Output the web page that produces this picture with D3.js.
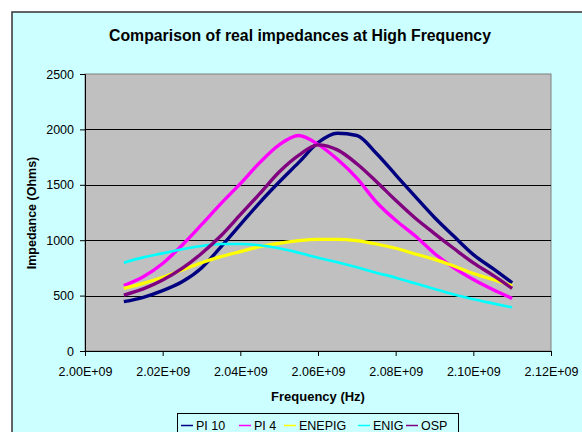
<!DOCTYPE html>
<html>
<head>
<meta charset="utf-8">
<script src="https://cdn.jsdelivr.net/npm/d3@7"></script>
<style>
  html, body { margin: 0; padding: 0; background: #ffffff; }
  svg { display: block; font-family: "Liberation Sans", Arial, sans-serif; }
</style>
</head>
<body>
<svg id="chart" width="582" height="432"></svg>
<script>
// ---- Data ----
const frequencies = [2.010e9, 2.015e9, 2.020e9, 2.025e9, 2.030e9, 2.035e9, 2.040e9,
  2.045e9, 2.050e9, 2.055e9, 2.060e9, 2.065e9, 2.070e9, 2.075e9, 2.080e9, 2.085e9,
  2.090e9, 2.095e9, 2.100e9, 2.105e9, 2.110e9];
const seriesNames = ["PI 10", "PI 4", "ENEPIG", "ENIG", "OSP"];
const pi10 =   [445, 485, 545, 625, 750, 940, 1140, 1340, 1525, 1700, 1880, 1965, 1945, 1785, 1590, 1395, 1205, 1035, 870, 745, 615];
const pi4 =    [590, 670, 790, 955, 1140, 1330, 1510, 1700, 1860, 1945, 1865, 1730, 1560, 1345, 1180, 1040, 880, 750, 645, 555, 475];
const enepig = [565, 610, 665, 731, 797, 852, 897, 942, 972, 996, 1008, 1008, 996, 966, 927, 876, 827, 767, 700, 645, 590];
const enig =   [797, 845, 881, 918, 948, 966, 966, 954, 927, 887, 842, 800, 755, 707, 662, 611, 560, 509, 467, 430, 394];
const osp =    [505, 560, 640, 745, 880, 1040, 1230, 1420, 1615, 1765, 1860, 1815, 1690, 1530, 1360, 1200, 1060, 925, 795, 685, 565];
const xTicks = [2.00e9, 2.02e9, 2.04e9, 2.06e9, 2.08e9, 2.10e9, 2.12e9];
const yTicks = [0, 500, 1000, 1500, 2000, 2500];
const gridValues = [500, 1000, 1500, 2000];
const titleText = "Comparison of real impedances at High Frequency";
const xTitle = "Frequency (Hz)";
const yTitle = "Impedance (Ohms)";

// ---- Styling ----
const colors = ["#000080", "#FF00FF", "#FFFF00", "#00FFFF", "#800080"];
const widths = [3.4, 3.4, 3.2, 2.6, 3.4];
const seriesValues = [pi10, pi4, enepig, enig, osp];

const svg = d3.select("#chart");

// chart area background + border
svg.append("rect").attr("x", 12).attr("y", 12).attr("width", 600).attr("height", 440)
  .attr("fill", "#CCFFFF").attr("stroke", "#333333").attr("stroke-width", 1.5);

const plot = { left: 85, right: 551, top: 74, bottom: 351 };
const x = d3.scaleLinear().domain([2.00e9, 2.12e9]).range([plot.left, plot.right]);
const y = d3.scaleLinear().domain([0, 2500]).range([plot.bottom, plot.top]);

// plot area
svg.append("rect").attr("x", plot.left).attr("y", plot.top)
  .attr("width", plot.right - plot.left).attr("height", plot.bottom - plot.top)
  .attr("fill", "#C0C0C0").attr("stroke", "#808080").attr("stroke-width", 1);

// gridlines
svg.append("g").selectAll("line").data(gridValues).join("line")
  .attr("x1", plot.left).attr("x2", plot.right)
  .attr("y1", d => Math.round(y(d)) + 0.5).attr("y2", d => Math.round(y(d)) + 0.5)
  .attr("stroke", "#000000").attr("stroke-width", 1);

// series lines
const line = d3.line().curve(d3.curveMonotoneX);
seriesValues.forEach((vals, i) => {
  const pts = vals.map((v, j) => [x(frequencies[j]), y(v)]);
  svg.append("path").attr("d", line(pts)).attr("fill", "none")
    .attr("stroke", colors[i]).attr("stroke-width", widths[i])
    .attr("stroke-linejoin", "round");
});

// axes
const fmtX = v => (v / 1e9).toFixed(2) + "E+09";
const xAxis = d3.axisBottom(x).tickValues(xTicks).tickFormat(fmtX).tickSize(5).tickPadding(11);
const gx = svg.append("g").attr("transform", `translate(0,${plot.bottom})`).call(xAxis);
gx.select(".domain").attr("stroke", "#000");
gx.selectAll(".tick line").attr("stroke", "#000");
gx.selectAll("text").attr("font-size", 12.5).attr("fill", "#000")
  .attr("font-family", "Liberation Sans, Arial, sans-serif");

const yAxis = d3.axisLeft(y).tickValues(yTicks).tickFormat(d3.format("d")).tickSize(5).tickPadding(6);
const gy = svg.append("g").attr("transform", `translate(${plot.left},0)`).call(yAxis);
gy.select(".domain").attr("stroke", "#000");
gy.selectAll(".tick line").attr("stroke", "#000");
gy.selectAll("text").attr("font-size", 12.5).attr("fill", "#000")
  .attr("font-family", "Liberation Sans, Arial, sans-serif");

// titles
svg.append("text").attr("x", 300).attr("y", 41).attr("text-anchor", "middle")
  .attr("font-size", 15.8).attr("font-weight", "bold").text(titleText);
svg.append("text").attr("x", 318).attr("y", 401).attr("text-anchor", "middle")
  .attr("font-size", 13).attr("font-weight", "bold").text(xTitle);
svg.append("text").attr("transform", "translate(36,213) rotate(-90)").attr("text-anchor", "middle")
  .attr("font-size", 12.5).attr("font-weight", "bold").text(yTitle);

// legend
const legend = svg.append("g");
legend.append("rect").attr("x", 177.5).attr("y", 413.5).attr("width", 281).attr("height", 30)
  .attr("fill", "#CCFFFF").attr("stroke", "#000").attr("stroke-width", 1);
const legendX = [181, 239, 284, 358, 406];
seriesNames.forEach((name, i) => {
  legend.append("line").attr("x1", legendX[i]).attr("x2", legendX[i] + 12)
    .attr("y1", 425.5).attr("y2", 425.5).attr("stroke", colors[i]).attr("stroke-width", 1.5);
  legend.append("text").attr("x", legendX[i] + 15).attr("y", 429.5)
    .attr("font-size", 12.5).attr("fill", "#000").text(name);
});
</script>
</body>
</html>
